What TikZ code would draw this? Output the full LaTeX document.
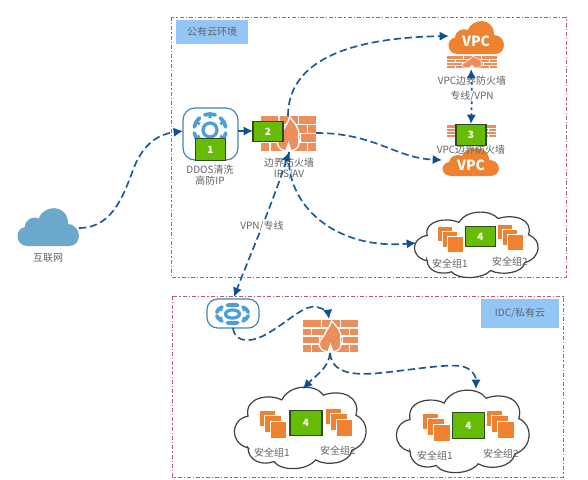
\documentclass[tikz,border=0pt]{standalone}
\usepackage{fontspec}
\setmainfont{Noto Sans CJK SC}
\usetikzlibrary{arrows.meta,calc}
\definecolor{linkblue}{HTML}{1B5A94}
\definecolor{headblue}{HTML}{0F4F98}
\definecolor{brick}{HTML}{EC8E5C}
\definecolor{vpcorange}{HTML}{EE8230}
\definecolor{netblue}{HTML}{6CA8CC}
\definecolor{gearblue}{HTML}{4C9FD6}
\definecolor{labelblue}{HTML}{93C5F5}
\definecolor{greenfill}{HTML}{66BC05}
\definecolor{greenedge}{HTML}{2E4A20}
\definecolor{txt}{HTML}{5F6468}
\definecolor{zonepink}{HTML}{C0597C}
\tikzset{
  zone/.style={draw=zonepink,line width=0.6pt,dash pattern=on 3pt off 1.5pt on 1pt off 1.5pt},
  zonelabel/.style={fill=labelblue,text=txt,font=\fontsize{7.5}{9}\selectfont,inner sep=0pt,anchor=center},
  captext/.style={text=txt,font=\fontsize{7.5}{9}\selectfont,inner sep=0pt,align=center},
  numbox/.style={fill=greenfill,draw=greenedge,line width=0.9pt,text=white,font=\bfseries\fontsize{7.5}{9}\selectfont,inner sep=0pt,anchor=center},
  vpctext/.style={text=white,font=\bfseries\fontsize{10.5}{12}\selectfont,inner sep=0pt},
  link/.style={draw=linkblue,line width=1.25pt,dash pattern=on 5.5pt off 2.8pt,
     arrows={-{Latex[length=7pt,width=7pt,color=headblue]}}},
  linkboth/.style={link,arrows={{Latex[length=7pt,width=7pt,color=headblue]}-{Latex[length=7pt,width=7pt,color=headblue]}}},
  shortlink/.style={link,dash pattern=on 2pt off 2.5pt},
}
\newcommand{\fillcloud}[5]{%
  \pgfmathsetmacro{\cw}{#3-#1}\pgfmathsetmacro{\ch}{#4-#2}%
  \begin{scope}[shift={(#1,#2)},xscale=\cw,yscale=\ch]
    \fill[#5] (0.16,1) .. controls (-0.05,1) and (-0.06,0.55) .. (0.11,0.5)
      .. controls (0.12,0.28) and (0.26,0.2) .. (0.34,0.28)
      .. controls (0.42,-0.1) and (0.82,-0.12) .. (0.82,0.42)
      .. controls (1.06,0.46) and (1.05,1) .. (0.84,1) -- cycle;
  \end{scope}}
\newcommand{\linecloud}[4]{%
  \pgfmathsetmacro{\cw}{#3-#1}\pgfmathsetmacro{\ch}{#4-#2}%
  \begin{scope}[shift={(#1,#2)},xscale=\cw,yscale=\ch]
    \draw[black!75,line width=0.9pt,fill=white] (0.10,0.75) .. controls (-0.04,0.7) and (-0.04,0.4) .. (0.1,0.36)
      .. controls (0.07,0.12) and (0.27,0.08) .. (0.36,0.16)
      .. controls (0.42,-0.04) and (0.62,-0.04) .. (0.68,0.1)
      .. controls (0.82,0.02) and (0.97,0.12) .. (0.93,0.35)
      .. controls (1.04,0.42) and (1.04,0.7) .. (0.9,0.78)
      .. controls (0.88,0.95) and (0.7,0.98) .. (0.62,0.9)
      .. controls (0.55,1.04) and (0.35,1.04) .. (0.3,0.92)
      .. controls (0.2,0.98) and (0.1,0.9) .. cycle;
  \end{scope}}
\newcommand{\brickwall}[4]{%
  \pgfmathsetmacro{\cw}{#3-#1}\pgfmathsetmacro{\ch}{#4-#2}%
  \pgfmathsetlengthmacro{\mort}{0.03pt*\ch}%
  \begin{scope}[shift={(#1,#2)},xscale=\cw,yscale=\ch]
    \fill[brick] (0,0) rectangle (1,1);
    \draw[white,line width=\mort] (0,0.25)--(1,0.25) (0,0.5)--(1,0.5) (0,0.75)--(1,0.75)
      (0.33,0)--(0.33,0.25) (0.68,0)--(0.68,0.25)
      (0.16,0.25)--(0.16,0.5) (0.84,0.25)--(0.84,0.5)
      (0.30,0.5)--(0.30,0.75) (0.72,0.5)--(0.72,0.75)
      (0.16,0.75)--(0.16,1) (0.84,0.75)--(0.84,1);
    \draw[white,line width=\mort,fill=brick] (0.5,1) .. controls (0.25,1) and (0.26,0.65) .. (0.38,0.5)
      .. controls (0.42,0.3) and (0.5,0.2) .. (0.52,0.02)
      .. controls (0.6,0.2) and (0.72,0.35) .. (0.68,0.6)
      .. controls (0.72,0.8) and (0.68,1) .. (0.5,1) -- cycle;
    \fill[white] (0.44,1) -- (0.5,0.72) -- (0.56,1) -- cycle;
  \end{scope}}
\newcommand{\gearicon}[3]{%
  \begin{scope}[shift={(#1,#2)},yscale=#3]
    \draw[gearblue,line width=2.4pt] (0,0) circle (7);
    \foreach \a in {30,90,150,210,270,330}{
      \draw[gearblue,line width=2.8pt,line cap=round] (\a-19:16) arc[start angle=\a-19,end angle=\a+19,radius=16];
      \fill[gearblue] (\a-9:12) -- (\a+9:12) -- (\a:16.5) -- cycle;
    }
  \end{scope}}
\newcommand{\boxstack}[3]{%
  \begin{scope}[shift={(#1,#2)},scale=#3]
    \foreach \d in {0,5.5,11}{
      \fill[vpcorange,draw=white,line width=0.5pt] (\d,\d) rectangle ++(15.5,16);
    }
  \end{scope}}
\begin{document}
\begin{tikzpicture}[x=0.75pt,y=-0.75pt]
\useasboundingbox (0,0) rectangle (588,479);
\fill[white] (0,0) rectangle (588,479);
% zones
\draw[zone] (171,17) rectangle (566,277);
\draw[zone] (172,296) rectangle (563,477);
\node[zonelabel,minimum width=54pt,minimum height=18pt] (publab) at (212,32) {公有云环境};
\node[zonelabel,minimum width=58.5pt,minimum height=21.5pt] (idclab) at (520,313.5) {IDC/私有云};
% internet
\fillcloud{18}{208}{79}{246}{netblue}
\node[captext] (nettxt) at (48,258) {互联网};
% DDOS
\draw[gearblue!85!black,line width=0.9pt,fill=white,rounded corners=9pt] (183,108) rectangle (238,160);
\gearicon{210}{130}{1}
\node[numbox,minimum width=22.5pt,minimum height=16pt] (n1) at (210.5,149.5) {1};
\node[captext] (ddostxt) at (210,175) {DDOS清洗\\[-1pt]高防IP};
% firewall main
\brickwall{261}{116}{316}{151}
\node[numbox,minimum width=22.5pt,minimum height=15.5pt] (n2) at (268,131.5) {2};
\node[captext] (fwtxt) at (289,169) {边界防火墙\\[-1pt]IPS/AV};
% top VPC
\fillcloud{449}{21}{504}{54}{vpcorange}
\node[vpctext] (vpca) at (476,41) {VPC};
\brickwall{447}{56}{497}{68}
\node[captext] (vpcatxt) at (472,81) {VPC边界防火墙};
\node[captext] (vpntxt) at (472,96) {专线/VPN};
% lower VPC
\brickwall{447}{125}{496}{137}
\fillcloud{443}{148}{499}{176}{vpcorange}
\node[vpctext] (vpcb) at (471,165) {VPC};
\node[captext] (vpcbtxt) at (471,150) {VPC边界防火墙};
\node[numbox,minimum width=22.5pt,minimum height=15.5pt] (n3) at (471,135) {3};
% public cloud
\linecloud{415}{212}{537}{277}
\boxstack{437}{226}{0.98}
\boxstack{497}{224}{0.98}
\node[numbox,minimum width=23pt,minimum height=15.5pt] (n4a) at (480.5,236.5) {4};
\node[captext] (a1) at (450,264) {安全组1};
\node[captext] (a2) at (510,262) {安全组2};
% IDC ddos
\draw[gearblue!85!black,line width=0.9pt,fill=white,rounded corners=8pt] (207,299) rectangle (259,328);
\gearicon{232.5}{314}{0.58}
\brickwall{303}{320}{358}{352}
% IDC clouds
\linecloud{235}{387}{365}{468}
\boxstack{259}{410}{1.05}
\boxstack{325}{408}{1.05}
\node[numbox,minimum width=24pt,minimum height=19pt] (n4b) at (306,423) {4};
\node[captext] (b1) at (272,453) {安全组1};
\node[captext] (b2) at (338,451) {安全组2};
\linecloud{397}{390}{528}{472}
\boxstack{422}{413}{1.05}
\boxstack{486}{410}{1.05}
\node[numbox,minimum width=24.5pt,minimum height=19pt] (n4c) at (468.5,425.5) {4};
\node[captext] (c1) at (435,456) {安全组1};
\node[captext] (c2) at (501,454) {安全组2};
% connector ends
\coordinate (netR) at (79,228);
\coordinate (ddosL) at (183,131);
\coordinate (ddosR) at (238,131);
\coordinate (n2L) at (253,131);
\coordinate (fwT) at (288,116);
\coordinate (vpcaL) at (449,36);
\coordinate (fwR) at (316,133);
\coordinate (vpcbL) at (442,160);
\coordinate (fwB) at (289,152);
\coordinate (cloudaL) at (416,243);
\coordinate (idcT) at (234,297);
\coordinate (idcB) at (233,328);
\coordinate (idcfwT) at (329,319);
\coordinate (idcfwB) at (330,353);
\coordinate (cloudbT) at (303,389);
\coordinate (cloudcT) at (476,389);
\coordinate (vpnA) at (471,69);
\coordinate (vpnB) at (471,124);
% connectors
\draw[link] (netR) .. controls (115,228) and (125,190) .. (135,165) .. controls (145,142) and (160,134) .. (ddosL);
\draw[link] (ddosR) -- (n2L);
\draw[link] (fwT) .. controls (288,65) and (340,38) .. (vpcaL);
\draw[link] (fwR) .. controls (375,133) and (395,158) .. (vpcbL);
\draw[link] (fwB) .. controls (285,205) and (335,250) .. (cloudaL);
\draw[linkboth] (fwB) .. controls (272,205) and (250,255) .. (idcT);
\draw[link] (idcB) .. controls (235,345) and (255,342) .. (270,332) .. controls (290,320) and (305,304) .. (317,307) .. controls (324,309) and (328,312) .. (idcfwT);
\draw[link] (idcfwB) .. controls (329,368) and (315,376) .. (cloudbT);
\draw[link] (idcfwB) .. controls (332,372) and (350,376) .. (380,373) .. controls (410,370) and (445,364) .. (460,366) .. controls (470,367) and (476,375) .. (cloudcT);
\draw[shortlink] (vpntxt) -- (vpnA);
\draw[shortlink] (vpntxt) -- (vpnB);
\node[captext,fill=white,inner sep=1pt] (vpnlink) at (262,226) {VPN/专线};
\end{tikzpicture}
\end{document}
